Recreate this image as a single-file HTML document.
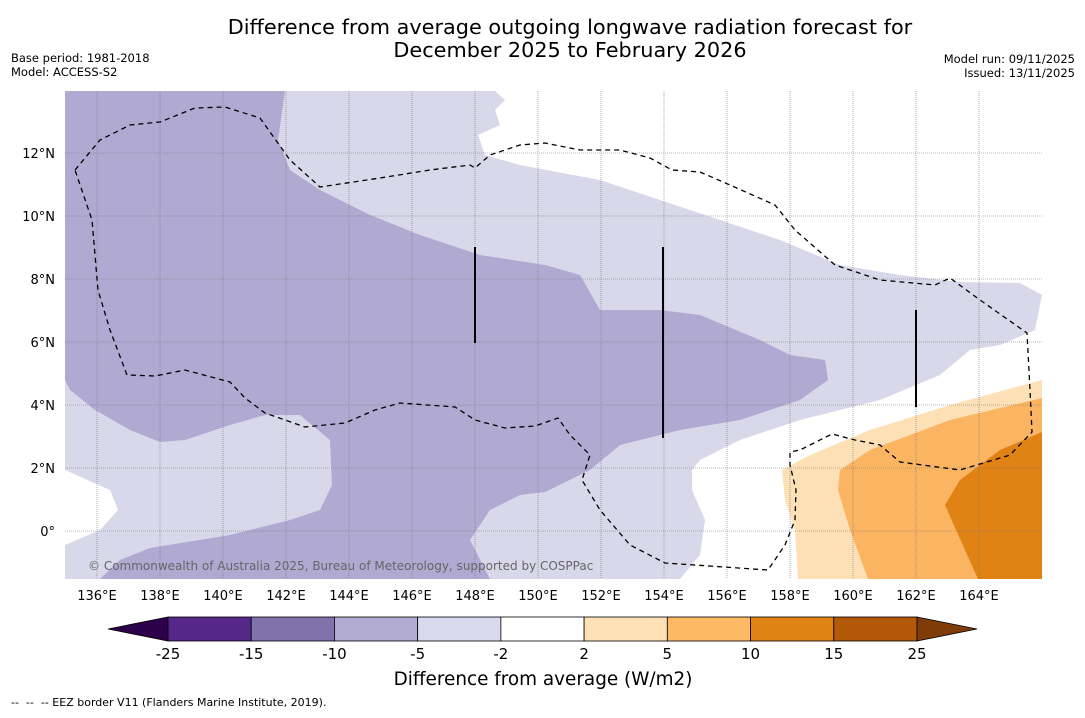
<!DOCTYPE html>
<html><head><meta charset="utf-8">
<style>
body{margin:0;width:1085px;height:713px;background:#fff;font-family:"Liberation Sans","DejaVu Sans",sans-serif;overflow:hidden}
svg text{font-family:"DejaVu Sans","Liberation Sans",sans-serif}
</style></head><body>
<svg id="s" width="1085" height="713" viewBox="0 0 1085 713">
<text x="570" y="34" font-size="20.8" text-anchor="middle">Difference from average outgoing longwave radiation forecast for</text>
<text x="570" y="57" font-size="20.8" text-anchor="middle">December 2025 to February 2026</text>
<text x="11" y="62" font-size="11.5">Base period: 1981-2018</text>
<text x="11" y="76" font-size="11.5">Model: ACCESS-S2</text>
<text x="1075" y="63" font-size="11.5" text-anchor="end">Model run: 09/11/2025</text>
<text x="1075" y="77" font-size="11.5" text-anchor="end">Issued: 13/11/2025</text>
<defs><clipPath id="mc"><rect x="65" y="91" width="977" height="488"/></clipPath></defs>
<g clip-path="url(#mc)">
<rect x="65" y="91" width="977" height="488" fill="#fff"/>
<path fill="#d8d8ea" d="M65,91 L495,91 505,100 495,110 500,125 478,135 485,155 520,165 600,180 660,200 720,220 780,240 840,265 900,275 960,282 1020,283 1042,295 1035,330 1000,345 970,350 940,375 880,400 800,420 740,440 700,460 692,470 692,490 705,520 700,555 680,579 65,579 65,545 100,530 118,510 110,490 65,470 Z"/>
<path fill="#b0a9d2" d="M65,91 L285,91 278,140 290,170 320,190 370,215 420,235 480,255 545,265 580,275 600,310 660,310 700,315 760,340 790,355 825,360 828,380 800,400 740,420 680,430 620,445 590,470 545,492 520,495 490,510 470,540 490,579 100,579 120,560 150,548 230,535 290,520 320,510 332,485 330,440 300,415 265,415 230,425 185,440 160,442 130,430 95,410 70,390 65,380 Z"/>
<path fill="#fde0b6" d="M782,470 L810,455 870,430 950,405 1042,380 1042,579 798,579 795,530 785,500 Z"/>
<path fill="#fbb462" d="M840,470 L870,450 950,420 1042,398 1042,579 868,579 850,530 838,490 Z"/>
<path fill="#e08214" d="M945,505 L960,480 1000,450 1042,432 1042,579 978,579 965,550 Z"/>
<g id="grid"></g>
<path fill="none" stroke="#000" stroke-width="1.3" stroke-dasharray="5,4" d="M75,170 L100,140 130,125 160,122 195,108 225,107 260,118 290,160 320,187 380,178 430,170 470,165 475,168 490,155 520,145 545,143 580,150 620,150 650,158 672,170 700,172 730,185 775,205 795,230 835,265 880,280 935,285 950,278 980,300 1027,333 1030,390 1032,432 1010,455 960,470 900,462 880,445 855,440 832,434 800,450 790,452 790,465 796,490 795,520 785,545 768,570 665,563 630,545 600,510 582,480 590,455 570,435 558,418 535,426 505,428 475,420 455,407 400,403 375,410 345,423 305,427 265,413 245,398 230,382 185,370 155,376 127,375 110,330 98,290 92,220 75,170"/>
<line x1="475" y1="247" x2="475" y2="343" stroke="#000" stroke-width="2"/>
<line x1="663" y1="247" x2="663" y2="438" stroke="#000" stroke-width="2"/>
<line x1="916" y1="310" x2="916" y2="407" stroke="#000" stroke-width="2"/>
<text x="88" y="570" font-size="12" fill="#666">© Commonwealth of Australia 2025, Bureau of Meteorology, supported by COSPPac</text>
</g>
<g id="ticks"></g>
<g id="cbar"></g>
<text x="543" y="685" font-size="18.4" text-anchor="middle">Difference from average (W/m2)</text>
<text x="11" y="706" font-size="11" style="white-space:pre">--  --  -- EEZ border V11 (Flanders Marine Institute, 2019).</text>
</svg>
<script>
const lonTicks=[136,138,140,142,144,146,148,150,152,154,156,158,160,162,164];
const latTicks=[12,10,8,6,4,2,0];
const cbBounds=[-25,-15,-10,-5,-2,2,5,10,15,25];
const cbColors=['#542788','#8073ac','#b2abd2','#d8daeb','#ffffff','#fee0b6','#fdb863','#e08214','#b35806'];
const lowExt='#2d004b', highExt='#7f3b08';
const NS='http://www.w3.org/2000/svg';
const xL=lon=>97+(lon-136)*31.5;
const yL=lat=>531-lat*31.5;
function mk(t,a,p){const e=document.createElementNS(NS,t);for(const k in a)e.setAttribute(k,a[k]);p.appendChild(e);return e;}
const grid=document.getElementById('grid'),ticks=document.getElementById('ticks');
lonTicks.forEach(l=>{const x=xL(l);
 const g=mk('line',{x1:x,y1:91,x2:x,y2:579,stroke:'#777','stroke-width':0.6,'stroke-dasharray':'1,1'},grid);
 
 
 const t=mk('text',{x:x,y:600,'font-size':13,'text-anchor':'middle'},ticks);t.textContent=l+'°E';
 
 });
latTicks.forEach(l=>{const y=yL(l);
 const g=mk('line',{x1:65,y1:y,x2:1042,y2:y,stroke:'#777','stroke-width':0.6,'stroke-dasharray':'1,1'},grid);
 
 
 const t=mk('text',{x:55,y:y+5,'font-size':13,'text-anchor':'end'},ticks);t.textContent=l===0?'0°':l+'°N';
 
 });
const cb=document.getElementById('cbar');
const cx0=168,cx1=917,cy=617,ch=24,n=cbColors.length,w=(cx1-cx0)/n;
const le=mk('polygon',{points:`${cx0},${cy} 108,${cy+ch/2} ${cx0},${cy+ch}`,fill:lowExt,stroke:'#000','stroke-width':0.8},cb);


const he=mk('polygon',{points:`${cx1},${cy} 977,${cy+ch/2} ${cx1},${cy+ch}`,fill:highExt,stroke:'#000','stroke-width':0.8},cb);


cbColors.forEach((c,i)=>{const r=mk('rect',{x:cx0+i*w,y:cy,width:w,height:ch,fill:c,stroke:'#000','stroke-width':0.8},cb);
 
 });
cbBounds.forEach((b,i)=>{const t=mk('text',{x:cx0+i*w,y:659,'font-size':15,'text-anchor':'middle'},cb);t.textContent=b;
 
 });
</script>
</body></html>
